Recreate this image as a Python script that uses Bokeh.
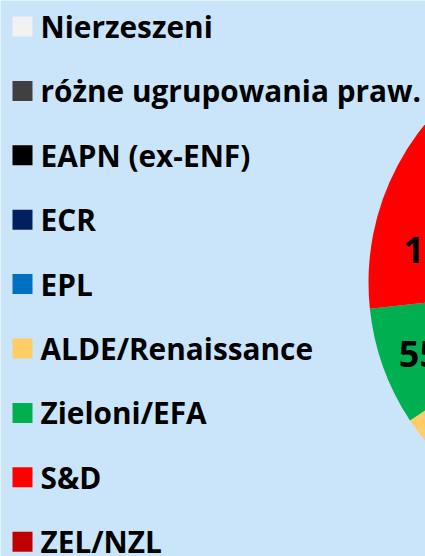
import math
from bokeh.plotting import figure
from bokeh.models import Range1d, ColumnDataSource
from bokeh.embed import file_html
from bokeh.resources import INLINE
from bokeh.core.properties import value

# ---- data ----
groups = ["Nierzeszeni", "różne ugrupowania praw.", "EAPN (ex-ENF)", "ECR", "EPL",
          "ALDE/Renaissance", "Zieloni/EFA", "S&D", "ZEL/NZL"]
seats = [29, 38, 65, 82, 178, 81, 55, 136, 56]
colors = ["#F2F2F2", "#404040", "#000000", "#002060", "#0070C0",
          "#FFCC66", "#00B050", "#FF0000", "#C00000"]

BG = "#CAE5FA"
W, H = 425, 556
FONT = "Open Sans"
LABEL_PX = 36

p = figure(width=W, height=H, x_range=Range1d(0, W), y_range=Range1d(0, H),
           output_backend="svg", toolbar_location=None, min_border=0)
p.axis.visible = False
p.grid.visible = False
p.outline_line_color = None
p.background_fill_color = BG
p.border_fill_color = BG

# ---- pie (clockwise from 12 o'clock, legend order) ----
cx, cy, R = 618, H - 282, 250
total = sum(seats)
starts, ends, lx, ly, labels = [], [], [], [], []
cum = 0
cap = math.radians(16)
margin = -5
for v in seats:
    a0 = math.pi / 2 - 2 * math.pi * cum / total
    cum += v
    a1 = math.pi / 2 - 2 * math.pi * cum / total
    starts.append(a1)
    ends.append(a0)
    la = a0 - min((a0 - a1) / 2, cap)
    txt = str(v)
    hw = 0.64 * LABEL_PX * len(txt)   # padded label box half-width
    hh = 0
    ux, uy = math.cos(la), math.sin(la)
    # "inside end": push the padded label box out along the ray
    d = 0
    while True:
        fx = abs(d * ux) + hw
        fy = abs(d * uy) + hh
        if math.hypot(fx, fy) > R - margin:
            break
        d += 0.5
    lx.append(cx + d * ux)
    ly.append(cy + d * uy)
    labels.append(txt)

pie = ColumnDataSource(dict(start=starts, end=ends, color=colors,
                            x=[cx] * len(seats), y=[cy] * len(seats)))
p.wedge(x="x", y="y", radius=R, start_angle="start", end_angle="end",
        fill_color="color", line_color=None, source=pie)

lab = ColumnDataSource(dict(x=lx, y=ly, t=labels))
p.text(x="x", y="y", text="t", source=lab, text_align="center",
       text_baseline="middle", text_font=value(FONT), text_font_style="bold",
       text_font_size=f"{LABEL_PX}px", text_color="#000000")

# ---- legend ----
row0, step = 26, 64.4
leg_y = [H - (row0 + step * i) for i in range(len(groups))]
leg = ColumnDataSource(dict(x=[22] * len(groups), tx=[40] * len(groups),
                            y=leg_y, color=colors, name=groups))
p.scatter(x="x", y="y", marker="square", size=20, fill_color="color",
          line_color=None, source=leg)
p.text(x="tx", y="y", text="name", source=leg, text_align="left",
       text_baseline="middle", text_font=value(FONT), text_font_style="bold",
       text_font_size="29.8px", text_color="#000000")

open("out.html", "w").write(file_html(p, INLINE))
